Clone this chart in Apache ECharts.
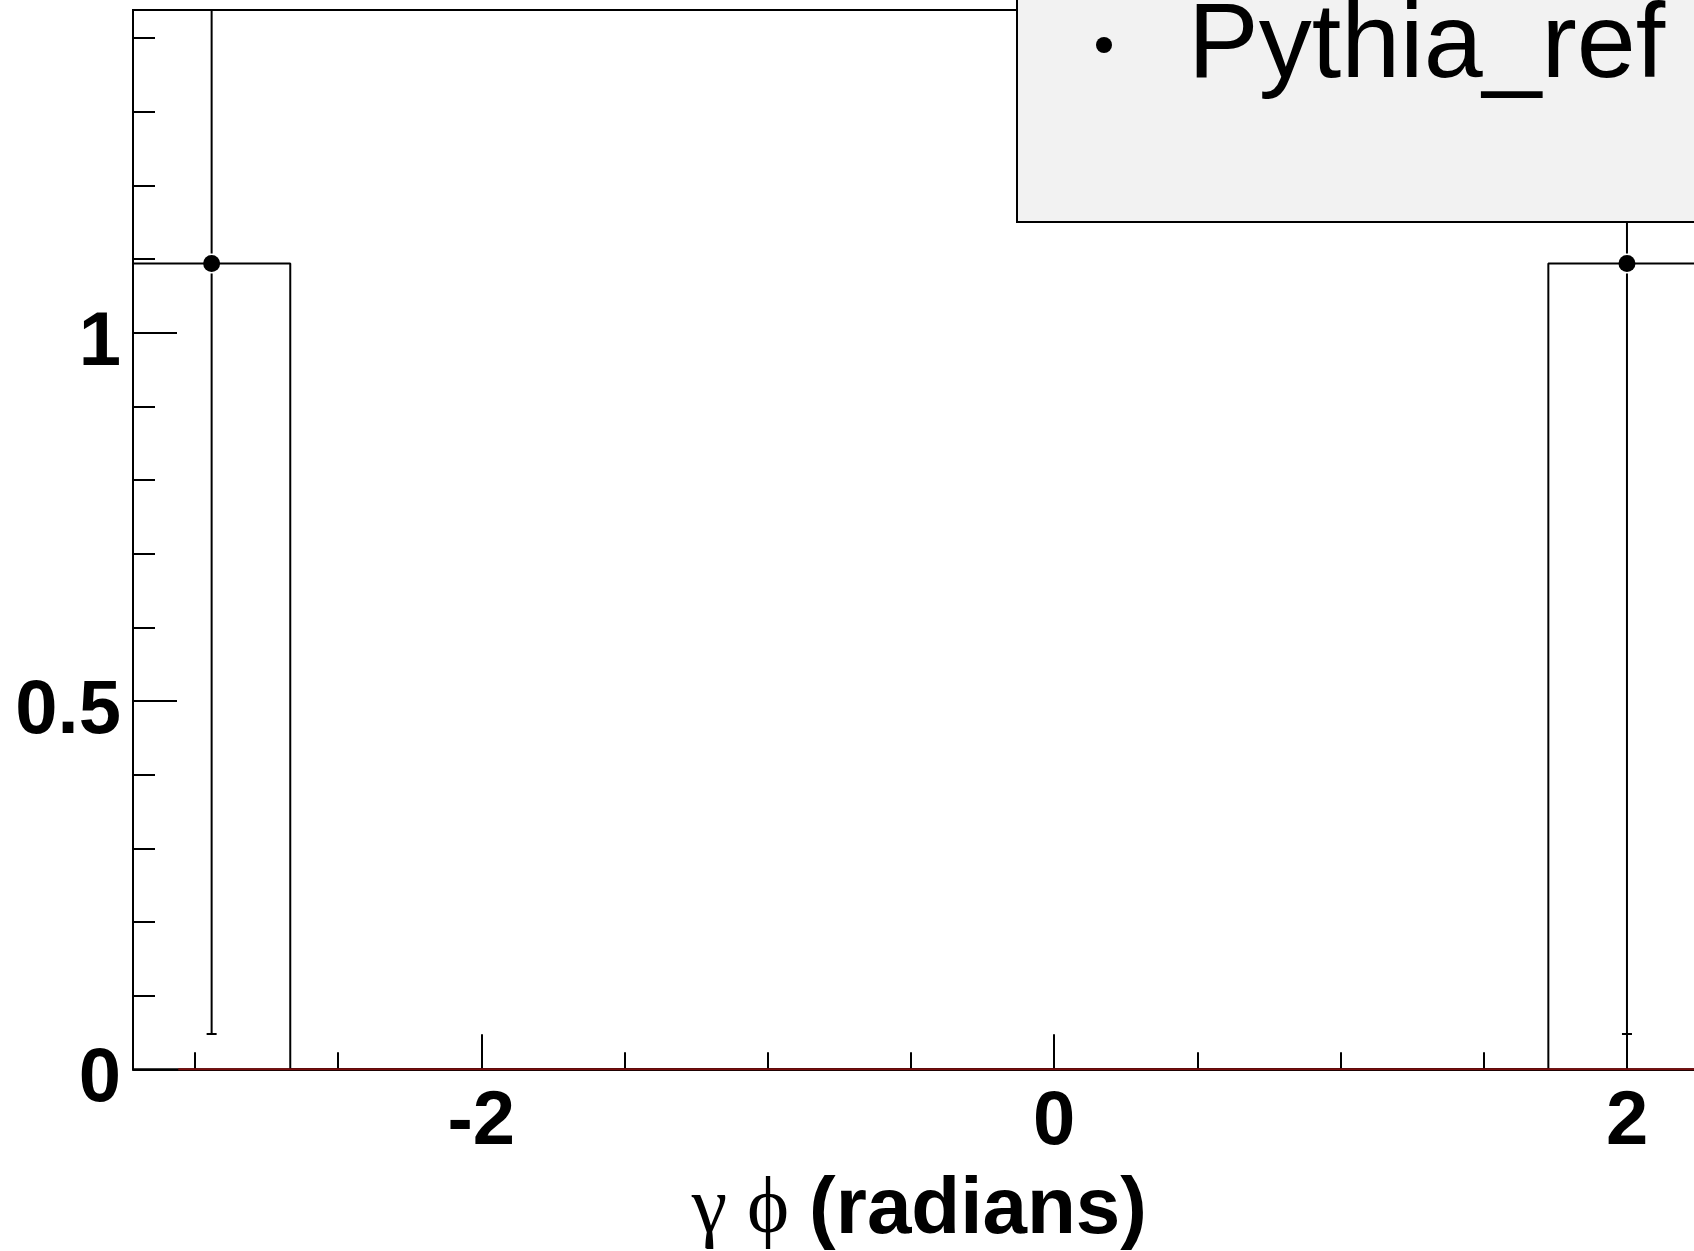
<!DOCTYPE html>
<html>
<head>
<meta charset="utf-8">
<script src="https://cdn.jsdelivr.net/npm/echarts@6/dist/echarts.min.js"></script>
<style>
  html, body { margin: 0; padding: 0; background: #fff; }
  #chart { width: 1694px; height: 1251px; }
</style>
</head>
<body>
<div id="chart"></div>
<script>
// ---- data ----
const seriesName = 'Pythia_ref';
const binEdges = [-3.216, -2.667, -2.118, -1.569, -1.020, -0.471, 0.078, 0.627, 1.176, 1.725, 2.274];
const binValues = [1.094, 0, 0, 0, 0, 0, 0, 0, 0, 1.094];
const binErrors = [1.046, 0, 0, 0, 0, 0, 0, 0, 0, 1.046];
const redHistRange = [-3.058, 2.274];   // empty (zero) red histogram drawn on the x axis
const redHistValue = 0;
const xMajorTicks = [-2, 0, 2];
const xMinorTicks = [-3, -2.5, -1.5, -1, -0.5, 0.5, 1, 1.5];
const yMajorTicks = [0, 0.5, 1];
const yMinorTicks = [0.1, 0.2, 0.3, 0.4, 0.6, 0.7, 0.8, 0.9, 1.1, 1.2, 1.3, 1.4];
const yMax = 1.438;
const xTitle = '{s|γ} {s|ϕ} {b|(radians)}';

// ---- derived series data ----
const stepLine = [[binEdges[0], 0]];
binValues.forEach((v, i) => { stepLine.push([binEdges[i], v]); stepLine.push([binEdges[i + 1], v]); });
stepLine.push([binEdges[binEdges.length - 1], 0]);

const points = [];
binValues.forEach((v, i) => {
  if (v > 0) points.push([(binEdges[i] + binEdges[i + 1]) / 2, v, binErrors[i]]);
});

const xMin = binEdges[0], xMax = binEdges[binEdges.length - 1];
const font = 'Liberation Sans, Arial, Helvetica, sans-serif';
const serif = 'Liberation Serif, Times New Roman, serif';

const chart = echarts.init(document.getElementById('chart'), null, { renderer: 'canvas' });

const option = {
  animation: false,
  backgroundColor: '#ffffff',
  grid: {
    left: 133, top: 10, width: 1572.6, height: 1059.3,
    containLabel: false, outerBoundsMode: 'none',
    show: true, borderColor: '#000', borderWidth: 2, backgroundColor: 'transparent'
  },
  xAxis: [
    {
      type: 'value', min: xMin, max: xMax, position: 'bottom',
      axisLine: { show: true, onZero: false, lineStyle: { color: '#000', width: 2 } },
      axisTick: { show: true, inside: true, length: 35, lineStyle: { color: '#000', width: 2 }, customValues: xMajorTicks },
      axisLabel: { show: true, customValues: xMajorTicks, fontSize: 76, fontWeight: 'bold', fontFamily: font, color: '#000', margin: 16 },
      splitLine: { show: false },
      name: xTitle,
      nameLocation: 'middle',
      nameGap: 102,
      nameMoveOverlap: false,
      nameTextStyle: {
        fontSize: 80, fontFamily: serif, color: '#000',
        rich: {
          s: { fontSize: 80, fontFamily: serif, color: '#000' },
          b: { fontSize: 80, fontWeight: 'bold', fontFamily: font, color: '#000' }
        }
      }
    },
    {
      type: 'value', min: xMin, max: xMax, position: 'bottom', gridIndex: 0,
      axisLine: { show: false, onZero: false },
      axisTick: { show: true, inside: true, length: 17, lineStyle: { color: '#000', width: 2 }, customValues: xMinorTicks },
      axisLabel: { show: false },
      splitLine: { show: false }
    }
  ],
  yAxis: [
    {
      type: 'value', min: 0, max: yMax, position: 'left',
      axisLine: { show: true, onZero: false, lineStyle: { color: '#000', width: 2 } },
      axisTick: { show: true, inside: true, length: 44, lineStyle: { color: '#000', width: 2 }, customValues: yMajorTicks },
      axisLabel: {
        show: true, customValues: yMajorTicks, fontSize: 76, fontWeight: 'bold', fontFamily: font, color: '#000',
        margin: 12, verticalAlign: 'top', lineHeight: 22
      },
      splitLine: { show: false }
    },
    {
      type: 'value', min: 0, max: yMax, position: 'left', gridIndex: 0,
      axisLine: { show: false, onZero: false },
      axisTick: { show: true, inside: true, length: 22, lineStyle: { color: '#000', width: 2 }, customValues: yMinorTicks },
      axisLabel: { show: false },
      splitLine: { show: false }
    }
  ],
  series: [
    {
      name: seriesName + ' hist',
      type: 'line', xAxisIndex: 0, yAxisIndex: 0,
      data: stepLine, symbol: 'none', clip: true,
      lineStyle: { color: '#000', width: 2 }, z: 2
    },
    {
      name: 'zero',
      type: 'line', xAxisIndex: 0, yAxisIndex: 0,
      data: [[redHistRange[0], redHistValue], [redHistRange[1], redHistValue]],
      symbol: 'none', clip: false,
      lineStyle: { color: '#7a0c0c', width: 2 }, z: 3
    },
    {
      name: seriesName + ' errors',
      type: 'custom', xAxisIndex: 0, yAxisIndex: 0, clip: true, z: 4,
      data: points,
      renderItem: function (params, api) {
        const x = api.value(0), y = api.value(1), e = api.value(2);
        const p = api.coord([x, y]);
        const lo = api.coord([x, y - e]);
        const hi = api.coord([x, y + e]);
        const gap = 10, cap = 5;
        const st = { stroke: '#000', lineWidth: 2 };
        return {
          type: 'group',
          children: [
            { type: 'line', shape: { x1: p[0], y1: lo[1], x2: p[0], y2: p[1] + gap }, style: st },
            { type: 'line', shape: { x1: p[0], y1: p[1] - gap, x2: p[0], y2: hi[1] }, style: st },
            { type: 'line', shape: { x1: p[0] - cap, y1: lo[1], x2: p[0] + cap, y2: lo[1] }, style: st },
            { type: 'line', shape: { x1: p[0] - cap, y1: hi[1], x2: p[0] + cap, y2: hi[1] }, style: st }
          ]
        };
      }
    },
    {
      name: seriesName,
      type: 'scatter', xAxisIndex: 0, yAxisIndex: 0,
      data: points.map(d => [d[0], d[1]]),
      symbol: 'circle', symbolSize: 17,
      itemStyle: { color: '#000', opacity: 1 }, z: 5
    }
  ],
  graphic: [
    {
      type: 'rect', z: 100,
      shape: { x: 1017, y: -20, width: 720, height: 242 },
      style: { fill: '#f2f2f2', stroke: '#000', lineWidth: 2 }
    },
    {
      type: 'circle', z: 101,
      shape: { cx: 1104, cy: 45, r: 8 },
      style: { fill: '#000' }
    },
    {
      type: 'text', z: 101,
      x: 1188, y: 48,
      style: { text: seriesName, fontSize: 106, fontFamily: font, fill: '#000', verticalAlign: 'middle', align: 'left' }
    }
  ]
};

chart.setOption(option);
</script>
</body>
</html>
